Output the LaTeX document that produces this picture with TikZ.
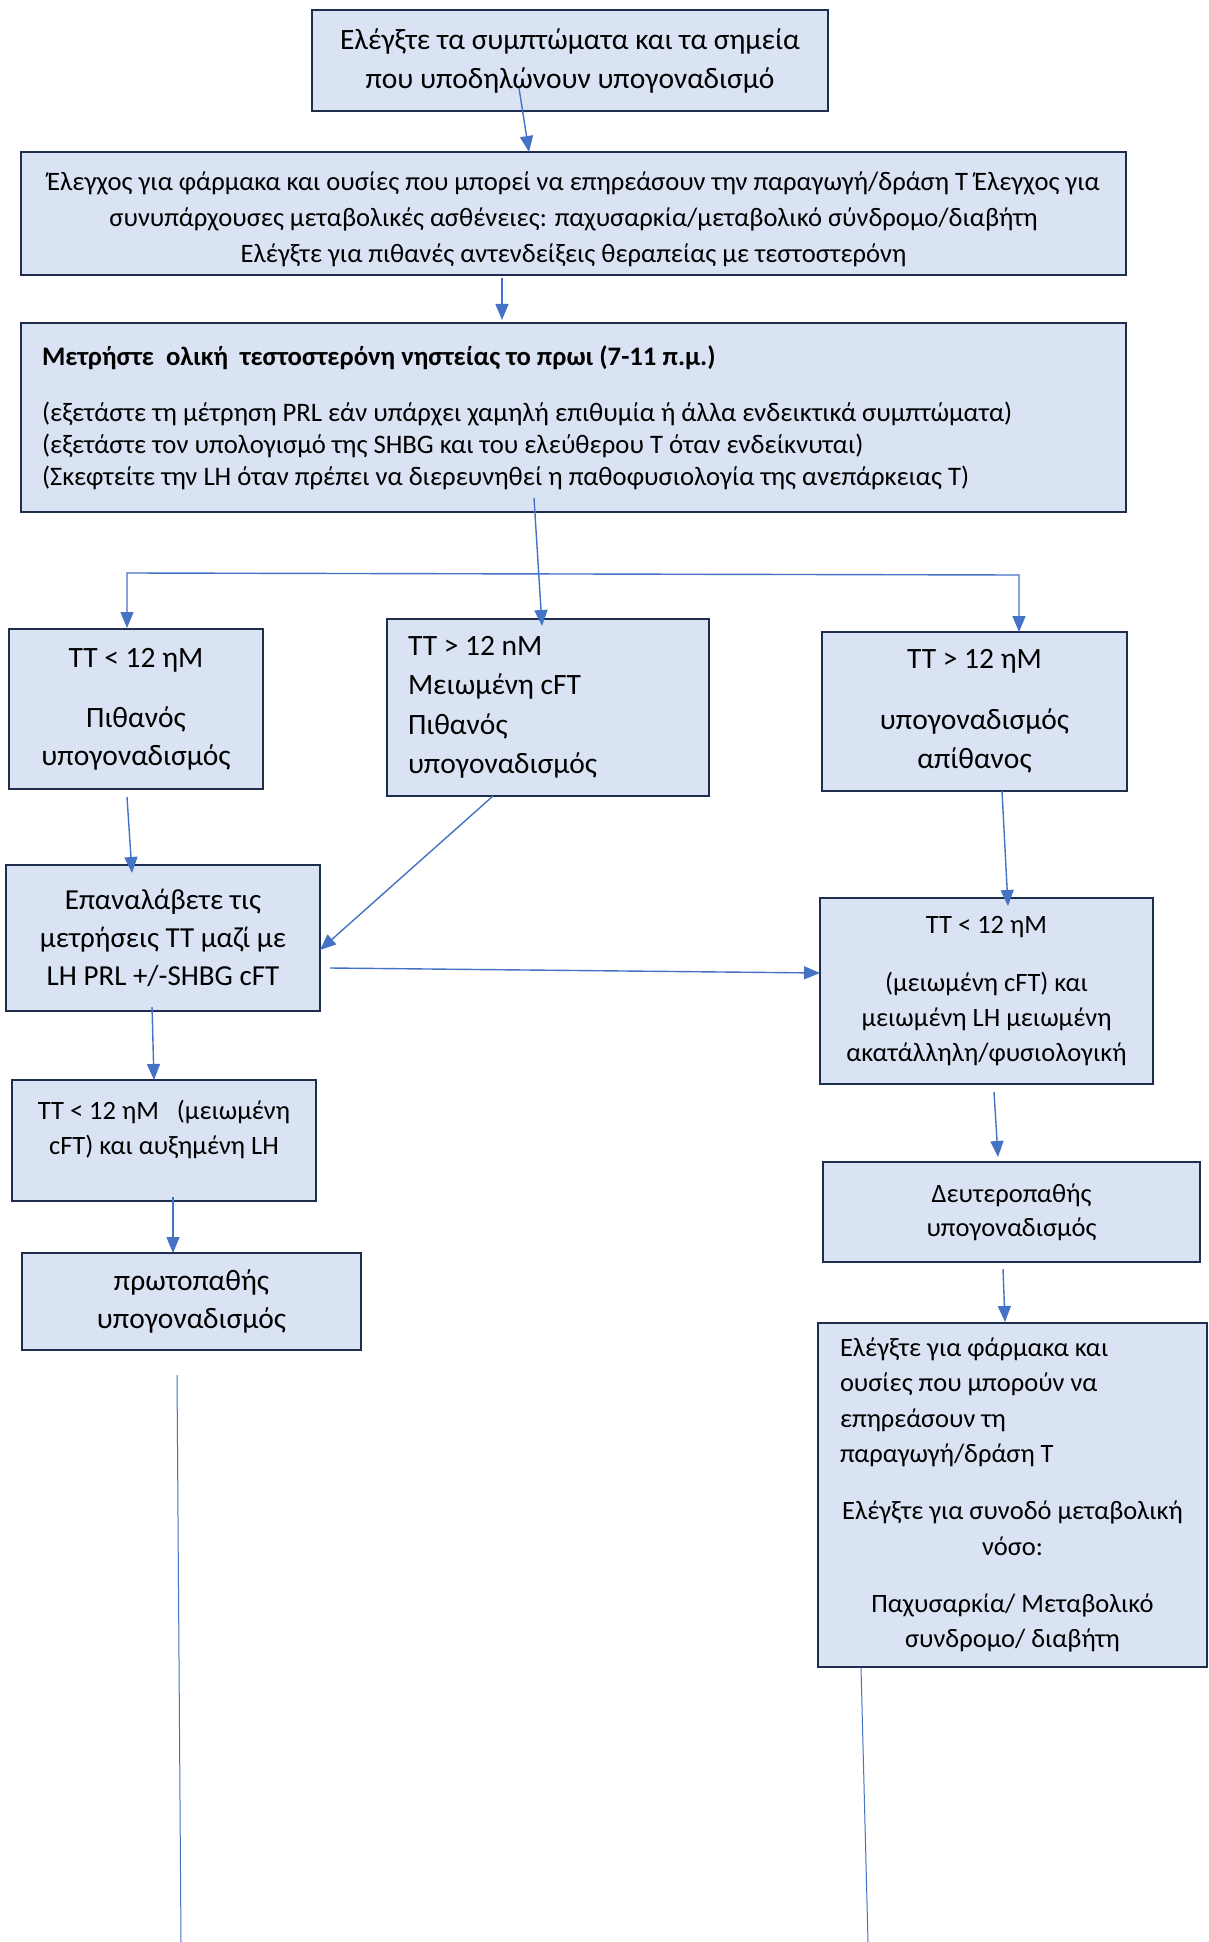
\documentclass[tikz,border=0pt]{standalone}
\usepackage{fontspec}
\setmainfont{Carlito}
\usetikzlibrary{arrows.meta}
\definecolor{boxfill}{HTML}{DAE3F3}
\definecolor{boxline}{HTML}{1F2D4E}
\definecolor{linkblue}{HTML}{4472C4}
\newcommand\tsz[2]{\fontsize{#1pt}{#2pt}\selectfont}
\tikzset{
  box/.style={draw=boxline, fill=boxfill, line width=2.6pt, inner sep=0pt,
    outer sep=0pt, align=center, text=black,
    execute at begin node={\spaceskip=0pt\xspaceskip=0pt\relax}},
  link/.style={draw=linkblue, line width=1.4pt,
    -{Triangle[width=13pt,length=16pt]}},
  twolink/.style={draw=linkblue, line width=1.4pt,
    {Triangle[width=13pt,length=16pt]}-{Triangle[width=13pt,length=16pt]}},
  tail/.style={draw=linkblue, line width=1pt},
}
\begin{document}
\begin{tikzpicture}[x=1pt,y=-1pt]
\useasboundingbox (0,0) rectangle (1208,1942);
\fill[white] (0,0) rectangle (1208,1942);

% boxes
\node[box, minimum width=516pt, minimum height=101pt, font=\tsz{29.5}{39}] (b1) at (570,60.5)
  {Ελέγξτε τα συμπτώματα και τα σημεία\\που υποδηλώνουν υπογοναδισμό};

\node[box, minimum width=1105pt, minimum height=123pt, font=\tsz{26.6}{36}] (b2) at (573.5,213.5)
  {\rule{0pt}{30pt}Έλεγχος για φάρμακα και ουσίες που μπορεί να επηρεάσουν την παραγωγή/δράση T Έλεγχος για\\
   συνυπάρχουσες μεταβολικές ασθένειες: παχυσαρκία/μεταβολικό σύνδρομο/διαβήτη\\
   Ελέγξτε για πιθανές αντενδείξεις θεραπείας με τεστοστερόνη};

\node[box, minimum width=1105pt, minimum height=189pt, text width=1063pt, align=left,
      font=\tsz{26.7}{31.7}] (b3) at (573.5,417.5)
  {{\bfseries Μετρήστε\ \ ολική\ \ τεστοστερόνη νηστείας το πρωι (7-11 π.μ.)}\\[25pt]
   (εξετάστε τη μέτρηση PRL εάν υπάρχει χαμηλή επιθυμία ή άλλα ενδεικτικά συμπτώματα)\\
   (εξετάστε τον υπολογισμό της SHBG και του ελεύθερου T όταν ενδείκνυται)\\
   (Σκεφτείτε την LH όταν πρέπει να διερευνηθεί η παθοφυσιολογία της ανεπάρκειας T)};

\node[box, minimum width=254pt, minimum height=160pt, font=\tsz{29.5}{38}] (b4) at (136,709)
  {TT < 12 ηM\\[22pt]Πιθανός\\υπογοναδισμός};

\node[box, minimum width=322pt, minimum height=177pt, text width=280pt, align=left,
      font=\tsz{29.5}{39.5}] (b5) at (548,707.5)
  {TT > 12 nM\\Μειωμένη cFT\\Πιθανός\\υπογοναδισμός};

\node[box, minimum width=305pt, minimum height=159pt, font=\tsz{29.5}{39}] (b6) at (974.5,711.5)
  {TT > 12 ηM\\[22pt]υπογοναδισμός\\απίθανος};

\node[box, minimum width=314pt, minimum height=146pt, font=\tsz{29}{38}] (b7) at (163,938)
  {Επαναλάβετε τις\\μετρήσεις TT μαζί με\\LH PRL +/-SHBG cFT};

\node[box, minimum width=333pt, minimum height=186pt, font=\tsz{26.5}{35}] (b8) at (986.5,991)
  {TT < 12 ηM\\[23pt](μειωμένη cFT) και\\μειωμένη LH μειωμένη\\ακατάλληλη/φυσιολογική};

\node[box, minimum width=304pt, minimum height=121pt, font=\tsz{26.5}{35}] (b9) at (164,1140.5)
  {TT < 12 ηM\ \ \ (μειωμένη\\cFT) και αυξημένη LH\rule[-27pt]{0pt}{1pt}};

\node[box, minimum width=339pt, minimum height=97pt, font=\tsz{29.5}{38}] (b10) at (191.5,1301.5)
  {πρωτοπαθής\\υπογοναδισμός};

\node[box, minimum width=377pt, minimum height=100pt, font=\tsz{26.5}{34}] (b11) at (1011.5,1212)
  {Δευτεροπαθής\\υπογοναδισμός};

\node[box, minimum width=389pt, minimum height=344pt, text width=345pt, align=left,
      font=\tsz{26.5}{35.5}] (b12) at (1012.5,1495)
  {Ελέγξτε για φάρμακα και\\ουσίες που μπορούν να\\επηρεάσουν τη\\παραγωγή/δράση T\\[21.5pt]
   \makebox[345pt][c]{Ελέγξτε για συνοδό μεταβολική}\\
   \makebox[345pt][c]{νόσο:}\\[21.5pt]
   \makebox[345pt][c]{Παχυσαρκία/ Μεταβολικό}\\
   \makebox[345pt][c]{συνδρομο/ διαβήτη}};

% free ends and the branching bar
\coordinate (splitL) at (127,573);
\coordinate (splitR) at (1019,575);
\coordinate (endL) at (181,1942);
\coordinate (endR) at (868,1942);

% connectors
\draw[link] ([xshift=-51pt,yshift=23pt]b1.south) -- ([xshift=-44.5pt]b2.north);
\draw[link] ([xshift=-71.5pt,yshift=-3pt]b2.south) -- ([xshift=-71.5pt,yshift=3pt]b3.north);
\draw[link] ([xshift=-39.5pt,yshift=14pt]b3.south) -- ([xshift=-6pt,yshift=-7pt]b5.north);
\draw[twolink] ([xshift=-9pt,yshift=1pt]b4.north) -- (splitL) -- (splitR) -- ([xshift=44.5pt]b6.north);
\draw[link] ([xshift=-9pt,yshift=-8pt]b4.south) -- ([xshift=-31pt,yshift=-8pt]b7.north);
\draw[link] ([xshift=-55pt]b5.south) -- ([yshift=-12pt]b7.east);
\draw[link] ([xshift=10pt,yshift=-30pt]b7.east) -- ([yshift=18pt]b8.west);
\draw[link] ([xshift=27.5pt]b6.south) -- ([xshift=21.5pt,yshift=-8pt]b8.north);
\draw[link] ([xshift=-11pt,yshift=4pt]b7.south) -- ([xshift=-10pt]b9.north);
\draw[link] ([xshift=9pt,yshift=4pt]b9.south) -- ([xshift=-18.5pt]b10.north);
\draw[link] ([xshift=7.5pt,yshift=-8pt]b8.south) -- ([xshift=-13.5pt,yshift=5pt]b11.north);
\draw[link] ([xshift=-8.5pt,yshift=-7pt]b11.south) -- ([xshift=-7.5pt,yshift=1pt]b12.north);
\draw[tail] ([xshift=-14.5pt,yshift=-25pt]b10.south) -- (endL);
\draw[tail] ([xshift=-151.5pt]b12.south) -- (endR);
\end{tikzpicture}
\end{document}
